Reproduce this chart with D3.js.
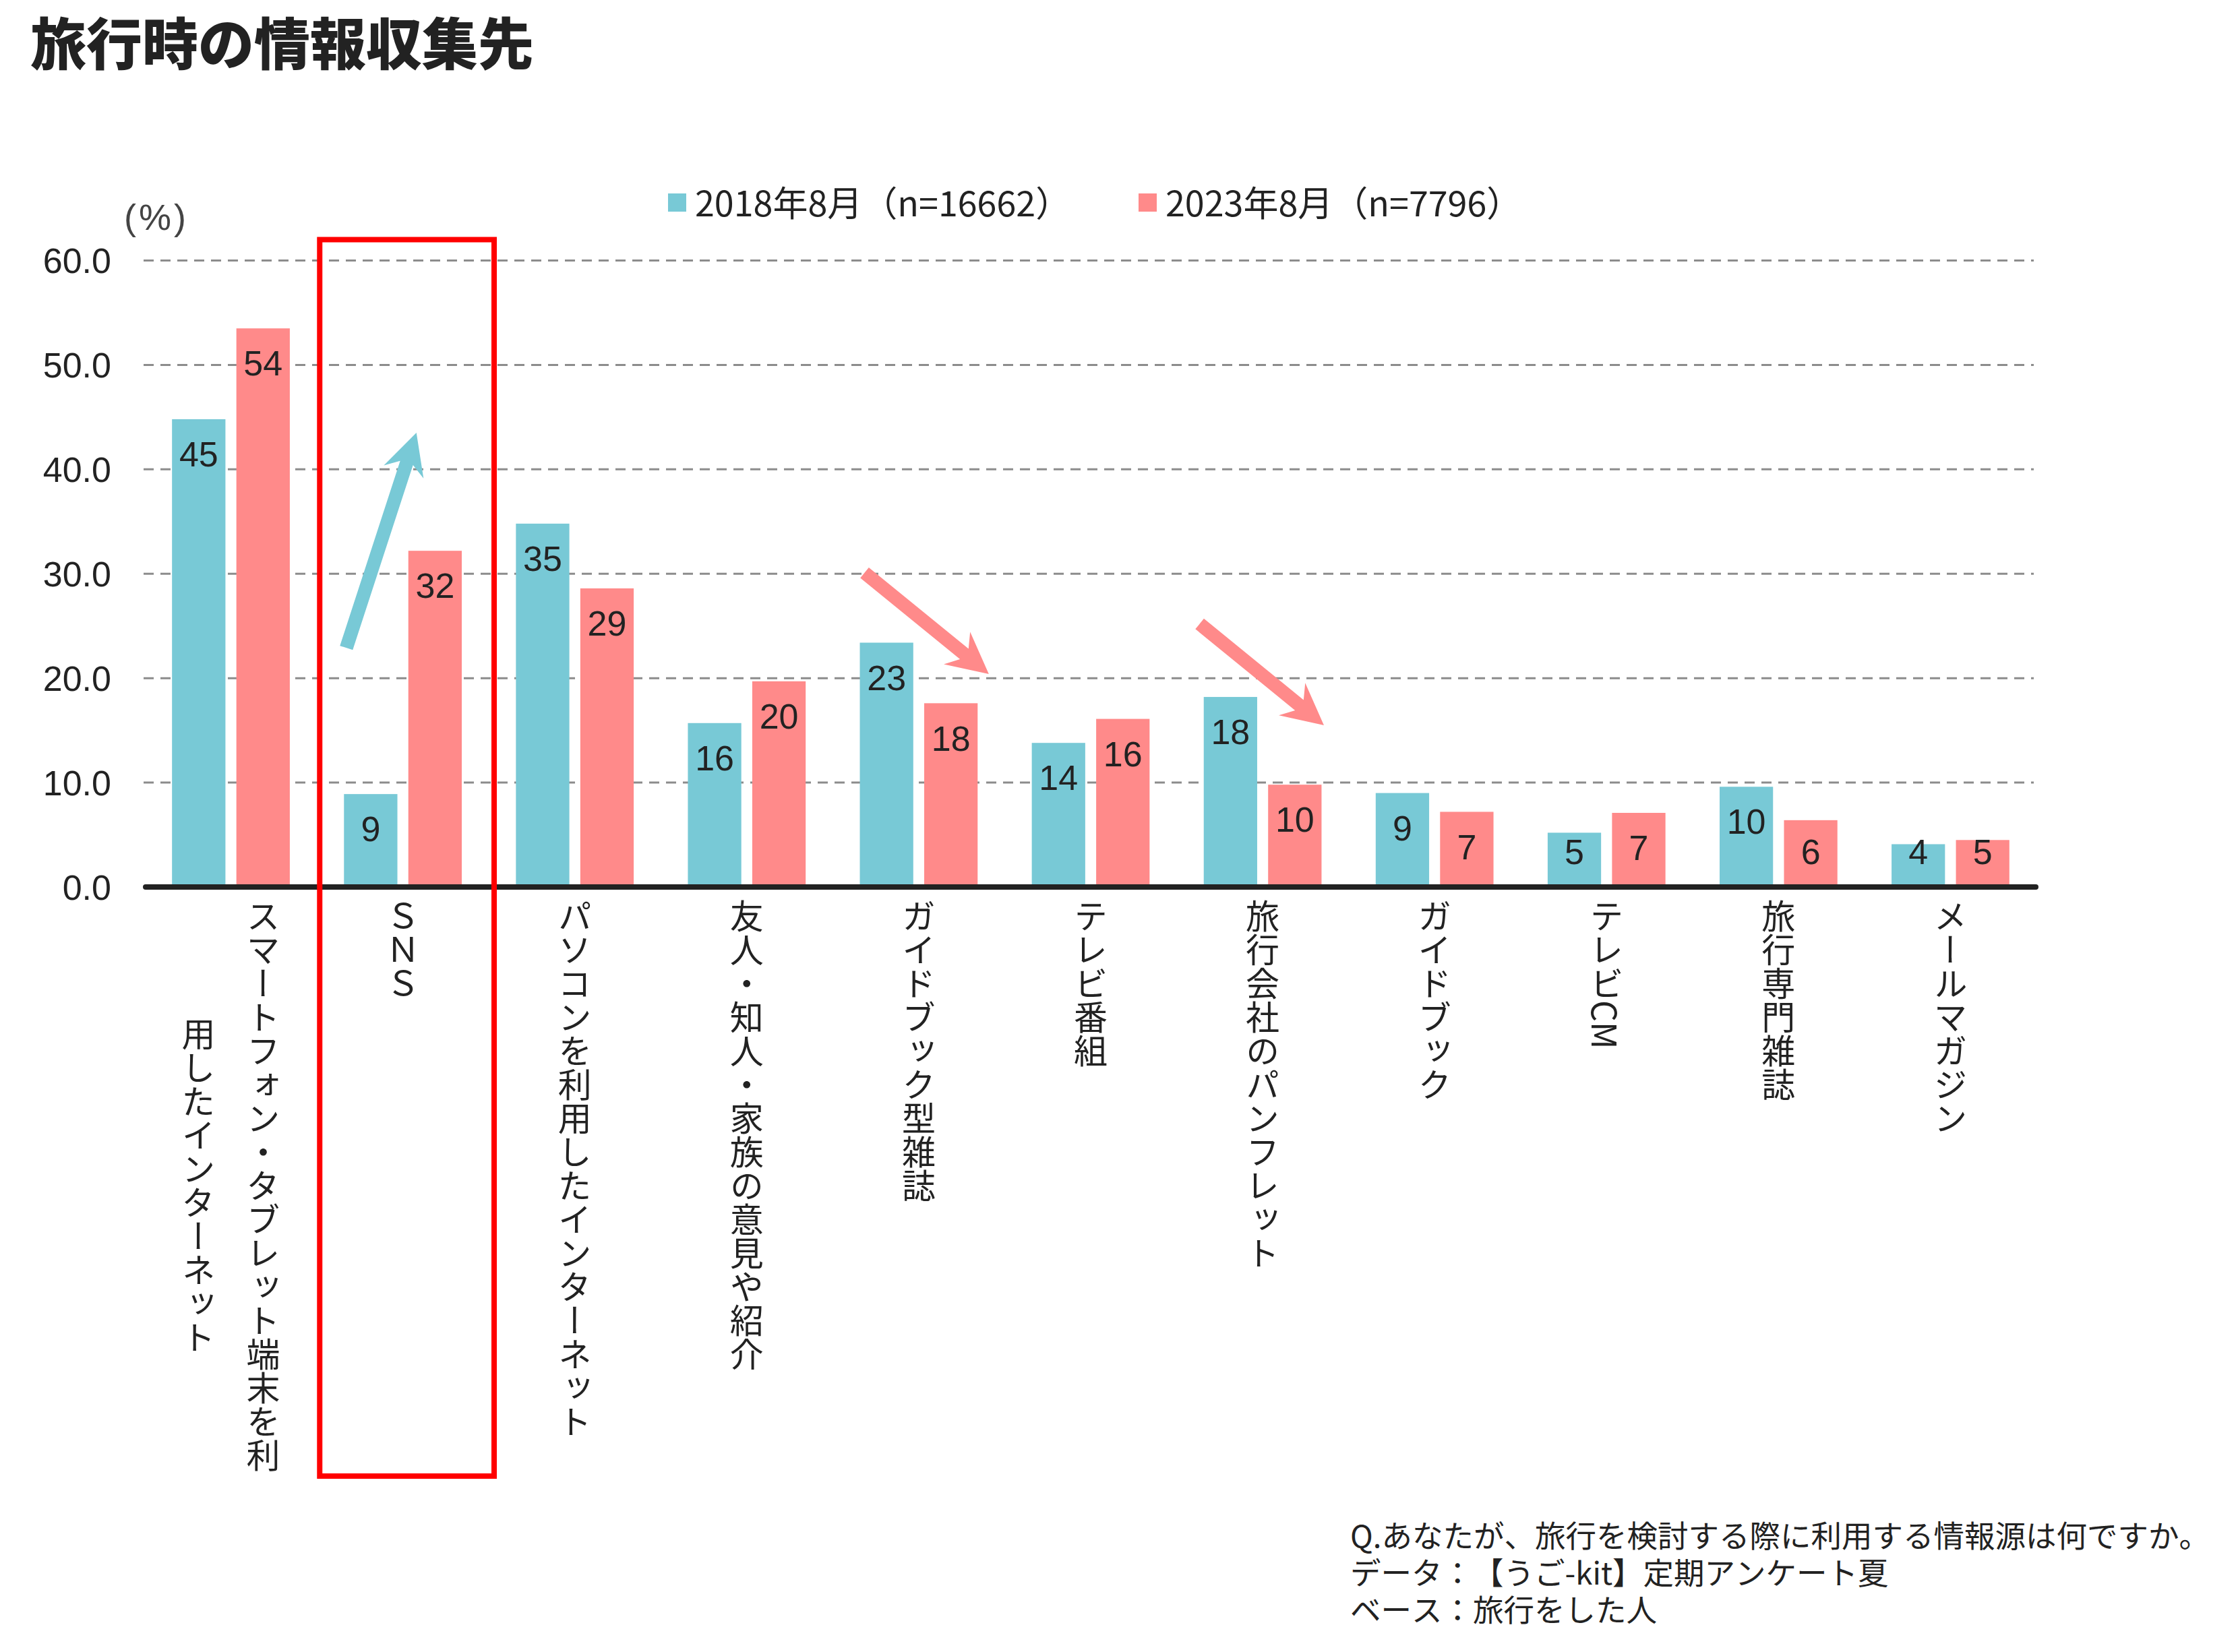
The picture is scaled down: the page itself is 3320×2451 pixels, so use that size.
<!DOCTYPE html>
<html>
<head>
<meta charset="utf-8">
<script src="https://cdn.jsdelivr.net/npm/d3@7"></script>
<style>
  html, body { margin: 0; padding: 0; background: #ffffff; }
  svg { display: block; }
  svg text { text-spacing-trim: space-all; font-kerning: none; }
</style>
</head>
<body>
<script>
// ---------- data ----------
const categories = [
  "スマートフォン・タブレット端末を利用したインターネット",
  "ＳＮＳ",
  "パソコンを利用したインターネット",
  "友人・知人・家族の意見や紹介",
  "ガイドブック型雑誌",
  "テレビ番組",
  "旅行会社のパンフレット",
  "ガイドブック",
  "テレビCM",
  "旅行専門雑誌",
  "メールマガジン"
];
const categoryLines = [
  ["スマートフォン・タブレット端末を利", "用したインターネット"],
  ["ＳＮＳ"],
  ["パソコンを利用したインターネット"],
  ["友人・知人・家族の意見や紹介"],
  ["ガイドブック型雑誌"],
  ["テレビ番組"],
  ["旅行会社のパンフレット"],
  ["ガイドブック"],
  ["テレビCM"],
  ["旅行専門雑誌"],
  ["メールマガジン"]
];
const seriesNames = ["2018年8月（n=16662）", "2023年8月（n=7796）"];
const values2018 = [44.8, 8.9, 34.8, 15.7, 23.4, 13.8, 18.2, 9.0, 5.2, 9.6, 4.1];
const values2023 = [53.5, 32.2, 28.6, 19.7, 17.6, 16.1, 9.8, 7.2, 7.1, 6.4, 4.5];
const yTicks = [0, 10, 20, 30, 40, 50, 60];
const title = "旅行時の情報収集先";
const unitLabel = "(%)";
const footnotes = [
  "Q.あなたが、旅行を検討する際に利用する情報源は何ですか。",
  "データ：【うご-kit】定期アンケート夏",
  "ベース：旅行をした人"
];
// annotation arrows: category, start offset (fraction of band), start value, end offset, end value, series
const arrows = [
  { cat: "ＳＮＳ", f1: 0.02, v1: 22.9, f2: 0.615, v2: 43.5, s: 0 },
  { cat: "ガイドブック型雑誌", f1: 0.04, v1: 30.1, f2: 1.095, v2: 20.4, s: 1 },
  { cat: "旅行会社のパンフレット", f1: -0.035, v1: 25.2, f2: 1.02, v2: 15.5, s: 1 }
];
const highlightCategory = "ＳＮＳ";

// ---------- styles ----------
const W = 3320, H = 2451;
const colors = ["#78C9D6", "#FF8A8A"];
const textColor = "#222222";
const latinFont = "'Liberation Sans', Arial, sans-serif";
const cjkFont = "'Noto Sans CJK JP', 'Noto Sans', sans-serif";

const svg = d3.select("body").append("svg")
  .attr("width", W).attr("height", H)
  .attr("viewBox", `0 0 ${W} ${H}`);
svg.append("rect").attr("width", W).attr("height", H).attr("fill", "#fff");

// ---------- scales ----------
const x0 = d3.scaleBand().domain(categories).range([215, 3021])
  .paddingInner(0.315).paddingOuter(0.1575);
const x1 = d3.scaleBand().domain(seriesNames).range([0, x0.bandwidth()])
  .paddingInner(0.17).paddingOuter(0);
const y = d3.scaleLinear().domain([0, 60]).range([1316, 386.5]);

// ---------- title ----------
svg.append("text")
  .attr("x", 45).attr("y", 96)
  .attr("font-family", cjkFont).attr("font-weight", 900)
  .attr("font-size", 83).attr("fill", textColor)
  .text(title);

// ---------- grid ----------
const grid = svg.append("g");
grid.selectAll("line").data(yTicks.filter(d => d > 0)).join("line")
  .attr("x1", 213).attr("x2", 3017)
  .attr("y1", d => y(d)).attr("y2", d => y(d))
  .attr("stroke", "#8c8c8c").attr("stroke-width", 3)
  .attr("stroke-dasharray", "15,10");

// ---------- y axis labels ----------
const yAxis = d3.axisLeft(y).tickValues(yTicks).tickFormat(d3.format(".1f")).tickSize(0).tickPadding(0);
const yg = svg.append("g").attr("transform", "translate(165,0)").call(yAxis);
yg.select(".domain").remove();
yg.selectAll("text")
  .attr("font-family", latinFont).attr("font-size", 52)
  .attr("fill", textColor).attr("dy", "0.35em").attr("x", 0);

svg.append("text")
  .attr("x", 232).attr("y", 341)
  .attr("text-anchor", "middle")
  .attr("font-family", latinFont).attr("font-size", 54)
  .attr("letter-spacing", 4)
  .attr("fill", "#444").text(unitLabel);

// ---------- bars ----------
const rows = categories.map((c, i) => ({ cat: c, vals: [values2018[i], values2023[i]] }));
const groups = svg.append("g").selectAll("g").data(rows).join("g")
  .attr("transform", d => `translate(${x0(d.cat)},0)`);
groups.selectAll("rect").data(d => d.vals.map((v, k) => ({ v, k }))).join("rect")
  .attr("x", d => x1(seriesNames[d.k]))
  .attr("width", x1.bandwidth())
  .attr("y", d => y(d.v))
  .attr("height", d => y(0) - y(d.v))
  .attr("fill", d => colors[d.k]);
groups.selectAll("text").data(d => d.vals.map((v, k) => ({ v, k }))).join("text")
  .attr("x", d => x1(seriesNames[d.k]) + x1.bandwidth() / 2)
  .attr("y", d => Math.min(y(d.v) + 52, y(0) - 52))
  .attr("dy", "0.35em")
  .attr("text-anchor", "middle")
  .attr("font-family", latinFont).attr("font-size", 52)
  .attr("fill", textColor)
  .text(d => Math.round(d.v));

// ---------- axis line ----------
svg.append("line")
  .attr("x1", 216).attr("x2", 3020)
  .attr("y1", y(0)).attr("y2", y(0))
  .attr("stroke", textColor).attr("stroke-width", 8)
  .attr("stroke-linecap", "round");

// ---------- category labels (vertical) ----------
const labelTop = y(0) + 18;
const labelFs = 50;
const lineGap = 96;
categories.forEach((c, i) => {
  const lines = categoryLines[i];
  const cx = x0(c) + x0.bandwidth() / 2;
  const n = lines.length;
  const texts = lines.map((ln, j) => {
    const lx = cx + ((n - 1) / 2 - j) * lineGap;
    return svg.append("text")
      .attr("x", lx).attr("y", labelTop)
      .attr("font-family", cjkFont).attr("font-size", labelFs)
      .attr("fill", textColor)
      .style("writing-mode", "vertical-rl")
      .attr("text-anchor", "start")
      .text(ln);
  });
  if (n > 1) {
    const lens = texts.map(t => t.node().getComputedTextLength());
    const maxLen = d3.max(lens);
    texts.forEach((t, j) => {
      t.attr("y", labelTop + (maxLen - lens[j]) / 2);
    });
  }
});

// ---------- legend ----------
const legendItems = [{ x: 991 }, { x: 1689 }];
seriesNames.forEach((s, k) => {
  const lx = legendItems[k].x;
  svg.append("rect").attr("x", lx).attr("y", 287).attr("width", 27).attr("height", 27)
    .attr("fill", colors[k]);
  svg.append("text").attr("x", lx + 40).attr("y", 321)
    .attr("font-family", cjkFont).attr("font-size", 52)
    .attr("fill", textColor).text(s);
});

// ---------- highlight box ----------
const hx = x0(highlightCategory);
svg.append("rect")
  .attr("x", hx - 36).attr("y", y(62))
  .attr("width", x0.bandwidth() + 84)
  .attr("height", 2190 - y(62))
  .attr("fill", "none").attr("stroke", "#ff0000").attr("stroke-width", 8);

// ---------- arrows ----------
function arrowPoints(xa, ya, xb, yb) {
  const dx = xb - xa, dy = yb - ya;
  const L = Math.hypot(dx, dy);
  const ux = dx / L, uy = dy / L;
  const nx = -uy, ny = ux;
  const local = [[0, 0], [-61, 31], [-47, 10], [-L, 10], [-L, -10], [-47, -10], [-61, -31]];
  return local.map(([u, v]) => [xb + u * ux + v * nx, yb + u * uy + v * ny]);
}
svg.append("g").selectAll("polygon").data(arrows).join("polygon")
  .attr("points", d => {
    const b = x0(d.cat), bw = x0.bandwidth();
    return arrowPoints(b + d.f1 * bw, y(d.v1), b + d.f2 * bw, y(d.v2)).map(p => p.join(",")).join(" ");
  })
  .attr("fill", d => colors[d.s]);

// ---------- footnotes ----------
svg.append("g").selectAll("text").data(footnotes).join("text")
  .attr("x", 2003).attr("y", (d, i) => 2296 + i * 55)
  .attr("font-family", cjkFont).attr("font-size", 45.5)
  .attr("fill", textColor)
  .text(d => d);
</script>
</body>
</html>
